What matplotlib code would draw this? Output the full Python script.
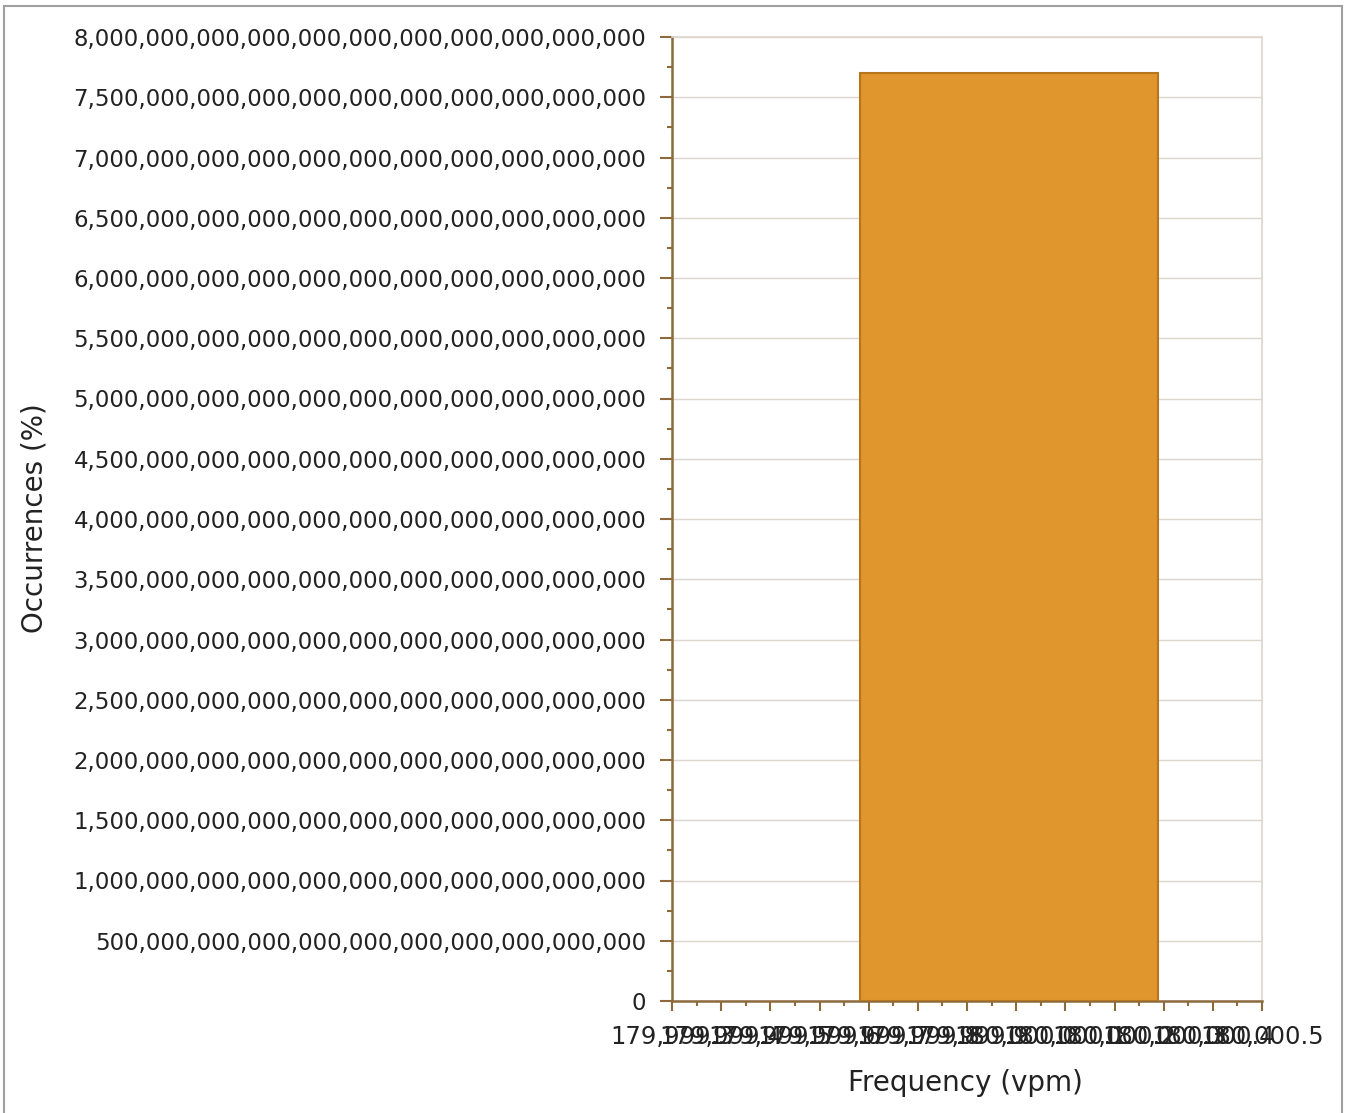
import numpy as np
from matplotlib import pyplot as plt
from matplotlib.ticker import FixedLocator, FuncFormatter, MultipleLocator
from matplotlib.patches import Rectangle

# datos
frecuencia = [179999.986]        # centro del bin (vpm)
ocurrencias = [7.7e33]           # valor de la barra
ancho_bin = 0.606
x_ticks = [179999.3 + 0.1 * k for k in range(13)]
y_ticks = [k * 5e32 for k in range(17)]

color_barra = '#E0962C'
color_borde = '#B5761E'
color_eje = '#8C6A3C'
color_grid = '#DDD6CC'

plt.rcParams['font.family'] = ['DejaVu Sans']

fig = plt.figure(figsize=(13.49, 11.13), dpi=100)
ax = fig.add_axes([672 / 1349, 1 - 1001 / 1113, 590 / 1349, 964 / 1113])

ax.bar(frecuencia, ocurrencias, width=ancho_bin, color=color_barra,
       edgecolor=color_borde, linewidth=1.5, zorder=3)

ax.set_xlim(x_ticks[0], x_ticks[-1])
ax.set_ylim(0, 8e33)

ax.xaxis.set_major_locator(FixedLocator(x_ticks))
ax.xaxis.set_minor_locator(MultipleLocator(0.05))
ax.yaxis.set_major_locator(FixedLocator(y_ticks))
ax.yaxis.set_minor_locator(MultipleLocator(2.5e32))


def fmt_y(v, pos):
    n = int(round(v / 1e30))
    return f"{n * 10**30:,}"


def fmt_x(v, pos):
    return f"{v:,.1f}"


ax.yaxis.set_major_formatter(FuncFormatter(fmt_y))
ax.xaxis.set_major_formatter(FuncFormatter(fmt_x))

ax.tick_params(axis='y', which='major', direction='out', length=8.5, width=1.5,
               color=color_eje, labelsize=16.5, labelcolor='#222222', pad=10)
ax.tick_params(axis='x', which='major', direction='out', length=7, width=1.5,
               color=color_eje, labelsize=17.5, labelcolor='#222222', pad=10)
ax.tick_params(axis='both', which='minor', direction='out', length=3.5,
               width=1.5, color=color_eje)

ax.grid(axis='y', which='major', color=color_grid, linewidth=1.0, zorder=0)
ax.set_axisbelow(True)

ax.spines['left'].set_color(color_eje)
ax.spines['bottom'].set_color(color_eje)
ax.spines['left'].set_linewidth(1.8)
ax.spines['bottom'].set_linewidth(1.8)
ax.spines['top'].set_color(color_grid)
ax.spines['right'].set_color(color_grid)
ax.spines['top'].set_linewidth(1.2)
ax.spines['right'].set_linewidth(1.2)

fig.text(35 / 1349, 1 - 518 / 1113, 'Occurrences (%)', rotation=90,
         ha='center', va='center', fontsize=20, color='#222222')
fig.text(965 / 1349, 1 - 1083 / 1113, 'Frequency (vpm)',
         ha='center', va='center', fontsize=20, color='#222222')

# marco exterior del grafico
fig.patches.append(Rectangle((0.003, -0.01), 0.992, 1.005, transform=fig.transFigure,
                             fill=False, edgecolor='#A0A0A0', linewidth=1.5))

fig.savefig('out.png', dpi=100)
